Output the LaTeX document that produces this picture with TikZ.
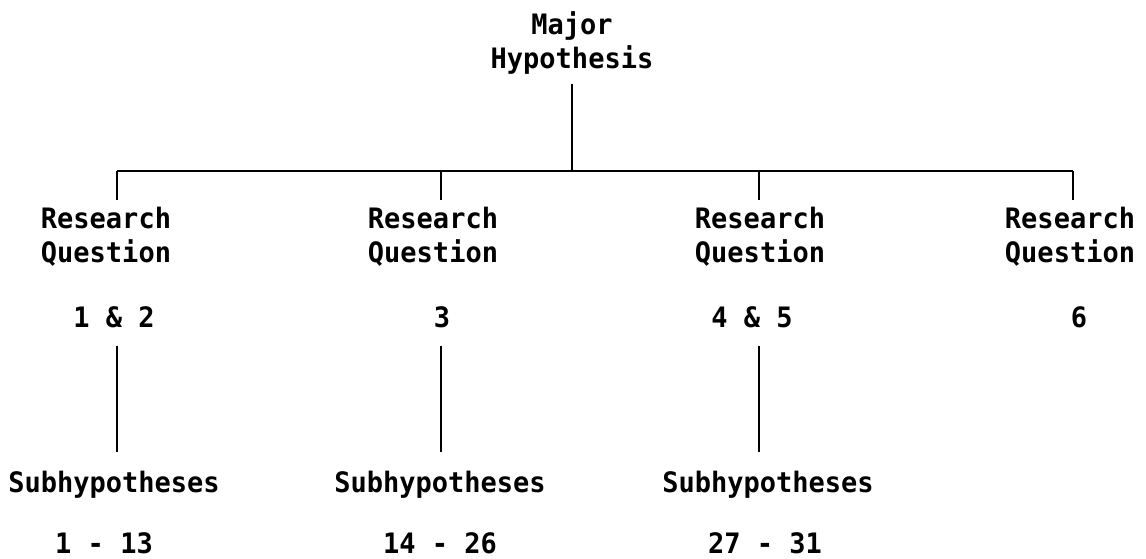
\documentclass[tikz,border=0pt]{standalone}
\usepackage{fontspec}
\newfontfamily\tyfont[FakeStretch=0.96]{DejaVu Sans Mono Bold}
\tikzset{
  lbl/.style={font={\tyfont\fontsize{20pt}{24pt}\selectfont}, align=center, inner sep=0pt, anchor=base},
  hyp/.style={lbl, outer sep=7pt},
  qbox/.style={lbl, outer sep=5pt},
  numl/.style={lbl, outer sep=13pt},
  subl/.style={lbl, outer sep=13pt},
  stem/.style={line width=0.8pt},
  bar/.style={line width=1.5pt}
}

\begin{document}
\begin{tikzpicture}[x=0.025cm,y=-0.025cm]
      \useasboundingbox (0,0) rectangle (1146,559);

      \node[hyp] (major) at (572,68) {Major\\Hypothesis};

      % the four research questions
      \node[qbox] (rq1) at (106,262) {Research\\Question};
      \node[qbox] (rq2) at (433,262) {Research\\Question};
      \node[qbox] (rq3) at (760,262) {Research\\Question};
      \node[qbox] (rq4) at (1070,262) {Research\\Question};
      \node[numl] (num1) at (114,327) {1 \& 2};
      \node[numl] (num2) at (442,327) {3};
      \node[numl] (num3) at (752,327) {4 \& 5};
      \node[numl] (num4) at (1079,327) {6};

      % subhypotheses
      \node[subl] (sub1) at (114,492) {Subhypotheses};
      \node[subl] (sub2) at (440,492) {Subhypotheses};
      \node[subl] (sub3) at (768,492) {Subhypotheses};
      \node[lbl] (rng1) at (104,553) {1 - 13};
      \node[lbl] (rng2) at (440,553) {14 - 26};
      \node[lbl] (rng3) at (765,553) {27 - 31};

      \coordinate (bar1) at (117,171);
      \coordinate (bar2) at (441,171);
      \coordinate (bar3) at (759,171);
      \coordinate (bar4) at (1073,171);

      \draw[bar] (bar1) -- (bar4);
      \draw[stem] (major.south) -- (major.south |- bar1);
      \foreach \i in {1,2,3,4}
        \draw[stem] (bar\i) -- (bar\i |- rq\i.north);
      \foreach \i in {1,2,3}
        \draw[stem] (num\i.south -| bar\i) -- (bar\i |- sub\i.north);

\end{tikzpicture}
\end{document}
